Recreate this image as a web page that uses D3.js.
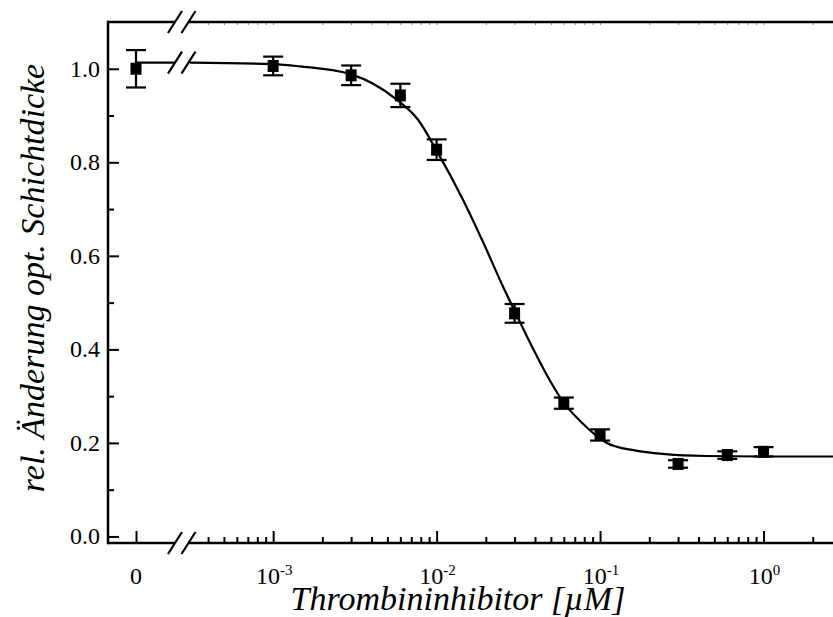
<!DOCTYPE html>
<html>
<head>
<meta charset="utf-8">
<script src="https://cdn.jsdelivr.net/npm/d3@7/dist/d3.min.js"></script>
<style>
  body { margin: 0; background: #fff; }
  svg text { font-family: "Liberation Serif", Tinos, "Times New Roman", Times, serif; fill: #000; }
  .tick-label { font-size: 24px; }
  .axis-title { font-size: 34px; font-style: italic; }
</style>
</head>
<body>
<div class="chart"></div>
<script>
// Thrombin inhibitor titration, relative change of optical layer thickness

// measured points (concentration in µM, 0 = no inhibitor)
var concentrations = [0, 0.001, 0.003, 0.006, 0.01, 0.03, 0.06, 0.1, 0.3, 0.6, 1];
var relChange = [1.000, 1.006, 0.986, 0.943, 0.827, 0.477, 0.285, 0.217, 0.155, 0.174, 0.181];
var relError = [0.040, 0.020, 0.021, 0.025, 0.022, 0.020, 0.012, 0.012, 0.008, 0.008, 0.010];

// fitted curve
var fitZeroValue = 1.013;
var fitConc = [0.00031, 0.001, 0.00146, 0.003, 0.0057, 0.0077, 0.01, 0.0145, 0.0192, 0.0255,
  0.0306, 0.0373, 0.0494, 0.0602, 0.0755, 0.11, 0.163, 0.25, 0.44, 1.0, 1.75, 2.66];
var fitValue = [1.013, 1.010, 1.005, 0.988, 0.934, 0.891, 0.825, 0.720, 0.630, 0.534,
  0.476, 0.414, 0.333, 0.285, 0.247, 0.200, 0.184, 0.176, 0.172, 0.171, 0.171, 0.171];

var yTicks = [0, 0.2, 0.4, 0.6, 0.8, 1.0];
var yMinorTicks = [0.1, 0.3, 0.5, 0.7, 0.9];
var xMajorTicks = [0.001, 0.01, 0.1, 1];
var xTickExponents = ["-3", "-2", "-1", "0"];

var svgWidth = 833;
var svgHeight = 617;
var serif = "'Liberation Serif', Tinos, 'Times New Roman', Times, serif";

var plot = { left: 108, right: 833, top: 22, bottom: 543 };
var breakX = [175, 188.5];

var svg = d3.select(".chart")
  .append("svg")
  .attr("width", svgWidth)
  .attr("height", svgHeight)
  .attr("font-family", serif);

// scales: a short linear piece for the "0" point, then log concentration
var y = d3.scaleLinear().domain([-0.014, 1.1]).range([plot.bottom, plot.top]);
var xZero = d3.scaleLinear().domain([-1, 1]).range([108, 164]);
var xLog = d3.scaleLog().domain([0.00031, 2.66]).range([190, plot.right]);

function xPos(c) {
  return c === 0 ? xZero(0) : xLog(c);
}

// minor log ticks
var xMinorTicks = [];
for (var k = -4; k <= 0; k++) {
  for (var m = 2; m <= 9; m++) {
    var v = m * Math.pow(10, k);
    if (v >= xLog.domain()[0] && v <= xLog.domain()[1]) xMinorTicks.push(v);
  }
}

// ---- axes ----
var axisG = svg.append("g");

// bottom major ticks (inward)
axisG.append("g")
  .attr("transform", `translate(0, ${plot.bottom})`)
  .call(d3.axisBottom(xLog).tickValues(xMajorTicks).tickSize(-12).tickFormat(""));
axisG.append("g")
  .attr("transform", `translate(0, ${plot.bottom})`)
  .call(d3.axisBottom(xLog).tickValues(xMinorTicks).tickSize(-6).tickFormat(""));
// tick for the zero point
axisG.append("g")
  .attr("transform", `translate(0, ${plot.bottom})`)
  .call(d3.axisBottom(xZero).tickValues([0]).tickSize(-12).tickFormat(""));

// top mirror ticks
var topMinor = axisG.append("g")
  .attr("transform", `translate(0, ${plot.top})`)
  .call(d3.axisTop(xLog).tickValues(xMinorTicks.concat(xMajorTicks)).tickSize(-3).tickFormat(""));

// left axis
axisG.append("g")
  .attr("transform", `translate(${plot.left}, 0)`)
  .call(d3.axisLeft(y).tickValues(yTicks).tickSize(-11).tickFormat(""));
axisG.append("g")
  .attr("transform", `translate(${plot.left}, 0)`)
  .call(d3.axisLeft(y).tickValues(yMinorTicks).tickSize(-6).tickFormat(""));

axisG.selectAll(".domain").remove();
axisG.selectAll(".tick line").attr("stroke", "#000").attr("stroke-width", 2);
topMinor.selectAll(".tick line").attr("stroke", "#888").attr("stroke-width", 1);

// axis lines with the break
var frame = svg.append("g")
  .attr("fill", "none")
  .attr("stroke", "#000")
  .attr("stroke-width", 2.5);
frame.append("path").attr("d", `M${plot.left},${plot.top - 1.25}V${plot.bottom + 1.25}`);
[plot.top, plot.bottom].forEach(function(yy) {
  frame.append("path").attr("d", `M${plot.left},${yy}H${breakX[0]}M${breakX[1]},${yy}H${plot.right}`);
});

// y tick labels
svg.append("g").selectAll("text")
  .data(yTicks)
  .enter()
  .append("text")
  .attr("class", "tick-label")
  .attr("font-family", serif)
  .attr("x", 100)
  .attr("y", d => y(d) + 8)
  .attr("text-anchor", "end")
  .text(d => d.toFixed(1));

// x tick labels
svg.append("text")
  .attr("class", "tick-label")
  .attr("font-family", serif)
  .attr("x", xZero(0))
  .attr("y", 584)
  .attr("text-anchor", "middle")
  .text("0");

var xLabels = svg.append("g").selectAll("text")
  .data(xMajorTicks)
  .enter()
  .append("text")
  .attr("class", "tick-label")
  .attr("font-family", serif)
  .attr("x", d => xLog(d) + 1)
  .attr("y", 584)
  .attr("text-anchor", "middle");
xLabels.append("tspan").text("10");
xLabels.append("tspan")
  .attr("dy", -9)
  .attr("font-size", "15px")
  .text((d, i) => xTickExponents[i]);

// axis titles
svg.append("text")
  .attr("class", "axis-title")
  .attr("font-family", serif)
  .attr("x", 458)
  .attr("y", 610)
  .attr("text-anchor", "middle")
  .text("Thrombininhibitor [µM]");

svg.append("text")
  .attr("class", "axis-title")
  .attr("font-family", serif)
  .attr("transform", "rotate(-90)")
  .attr("x", -278)
  .attr("y", 44)
  .attr("text-anchor", "middle")
  .text("rel. Änderung opt. Schichtdicke");

// ---- fitted curve ----
var line = d3.line()
  .x(d => xLog(d[0]))
  .y(d => y(d[1]))
  .curve(d3.curveMonotoneX);

svg.append("path")
  .datum(fitConc.map((c, i) => [c, fitValue[i]]))
  .attr("fill", "none")
  .attr("stroke", "#000")
  .attr("stroke-width", 2.2)
  .attr("d", line);

svg.append("line")
  .attr("x1", xZero(0))
  .attr("x2", breakX[0])
  .attr("y1", y(fitZeroValue))
  .attr("y2", y(fitZeroValue))
  .attr("stroke", "#000")
  .attr("stroke-width", 2.2);

// ---- break marks: top axis, curve, bottom axis ----
var breakYs = [plot.top, y(fitZeroValue), plot.bottom];
var breaks = svg.append("g");
breakYs.forEach(function(by) {
  breaks.append("rect")
    .attr("x", breakX[0] + 1.5)
    .attr("y", by - 4)
    .attr("width", breakX[1] - breakX[0] - 3)
    .attr("height", 8)
    .attr("fill", "#fff");
  breakX.forEach(function(bx) {
    breaks.append("line")
      .attr("x1", bx - 7)
      .attr("y1", by + 11)
      .attr("x2", bx + 7)
      .attr("y2", by - 11)
      .attr("stroke", "#000")
      .attr("stroke-width", 2.2);
  });
});

// ---- data points with error bars ----
var pts = concentrations.map((c, i) => ({ c: c, v: relChange[i], e: relError[i] }));
var pointG = svg.append("g").selectAll("g")
  .data(pts)
  .enter()
  .append("g")
  .attr("stroke", "#000")
  .attr("stroke-width", 2.2);

pointG.append("line")
  .attr("x1", d => xPos(d.c))
  .attr("x2", d => xPos(d.c))
  .attr("y1", d => y(d.v - d.e))
  .attr("y2", d => y(d.v + d.e));

pointG.selectAll(".cap")
  .data(d => [[d.c, d.v - d.e], [d.c, d.v + d.e]])
  .enter()
  .append("line")
  .attr("x1", d => xPos(d[0]) - 10)
  .attr("x2", d => xPos(d[0]) + 10)
  .attr("y1", d => y(d[1]))
  .attr("y2", d => y(d[1]));

pointG.append("rect")
  .attr("x", d => xPos(d.c) - 5.5)
  .attr("y", d => y(d.v) - 6)
  .attr("width", 11)
  .attr("height", 12)
  .attr("fill", "#000")
  .attr("stroke", "none");
</script>
</body>
</html>
